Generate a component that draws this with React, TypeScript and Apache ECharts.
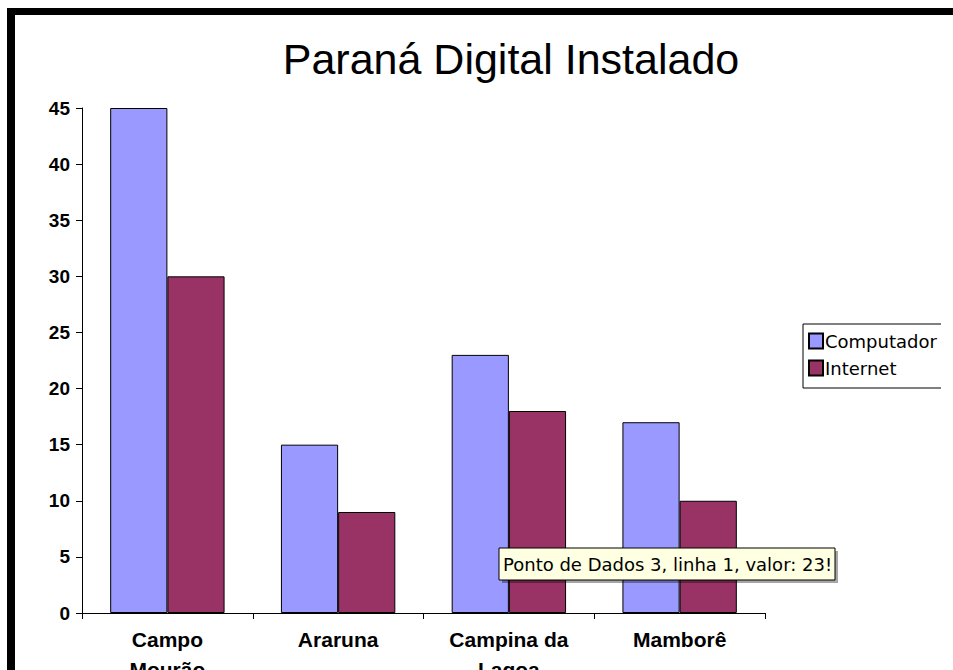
import React, { useEffect, useRef } from "react";
import * as echarts from "echarts";

const titleText = "Paraná Digital Instalado";
const categories = ["Campo\nMourão", "Araruna", "Campina da\nLagoa", "Mamborê"];
const seriesNames = ["Computador", "Internet"];
const computadorValues = [45, 15, 23, 17];
const internetValues = [30, 9, 18, 10];
const yTicks = { min: 0, max: 45, interval: 5 };
const tooltipText = "Ponto de Dados 3, linha 1, valor: 23!";

export default function App() {
  const ref = useRef<HTMLDivElement>(null);
  useEffect(() => {
    if (!ref.current) return;
    const chart = echarts.init(ref.current, null, { renderer: "svg" });
    const axisFont = "Liberation Sans";
    chart.setOption({
      animation: false,
      backgroundColor: "#ffffff",
      title: {
        text: titleText,
        left: 506,
        top: 32,
        textAlign: "center",
        textStyle: {
          fontFamily: "Liberation Sans",
          fontWeight: "normal",
          fontSize: 43,
          color: "#000",
        },
      },
      legend: {
        orient: "vertical",
        left: 803,
        top: 324,
        icon: "rect",
        itemWidth: 14,
        itemHeight: 15,
        itemGap: 9,
        padding: [8, 20, 11, 5],
        borderColor: "#000",
        borderWidth: 1,
        textStyle: { fontFamily: "DejaVu Sans", fontSize: 18, color: "#000", padding: [0, 0, 0, -3] },
        data: seriesNames,
      },
      grid: {
        left: 82,
        right: 188,
        top: 108,
        bottom: 57,
        containLabel: false,
        outerBoundsMode: "none",
      },
      xAxis: {
        type: "category",
        data: categories,
        axisLine: { lineStyle: { color: "#000", width: 1 } },
        axisTick: { show: true, length: 6, lineStyle: { color: "#000" } },
        axisLabel: {
          interval: 0,
          margin: 11,
          fontFamily: axisFont,
          fontWeight: "bold",
          fontSize: 21,
          lineHeight: 30,
          color: "#000",
        },
      },
      yAxis: {
        type: "value",
        min: yTicks.min,
        max: yTicks.max,
        interval: yTicks.interval,
        splitLine: { show: false },
        axisLine: { show: true, lineStyle: { color: "#000", width: 1 } },
        axisTick: { show: true, length: 6, lineStyle: { color: "#000" } },
        axisLabel: {
          margin: 12,
          fontFamily: axisFont,
          fontWeight: "bold",
          fontSize: 19,
          color: "#000",
        },
      },
      series: [
        {
          name: seriesNames[0],
          type: "bar",
          data: computadorValues,
          barGap: "0%",
          barCategoryGap: "33%",
          itemStyle: { color: "#9999FF", borderColor: "#000", borderWidth: 1 },
        },
        {
          name: seriesNames[1],
          type: "bar",
          data: internetValues,
          barGap: "0%",
          barCategoryGap: "33%",
          itemStyle: { color: "#993366", borderColor: "#000", borderWidth: 1 },
        },
      ],
      graphic: [
        { type: "rect", z: 100, shape: { x: 941, y: 16, width: 12, height: 654 }, style: { fill: "#fff" } },
        { type: "rect", z: 101, shape: { x: 7, y: 8, width: 946, height: 7 }, style: { fill: "#000" } },
        { type: "rect", z: 101, shape: { x: 7, y: 8, width: 8, height: 662 }, style: { fill: "#000" } },
        { type: "rect", z: 102, shape: { x: 502, y: 551, width: 336, height: 32 }, style: { fill: "rgba(0,0,0,0.35)" } },
        { type: "rect", z: 103, shape: { x: 499, y: 548, width: 336, height: 32 }, style: { fill: "#FFFFE1", stroke: "#000", lineWidth: 1 } },
        {
          type: "text",
          z: 104,
          x: 503,
          y: 564,
          style: {
            text: tooltipText,
            fill: "#000",
            fontFamily: "DejaVu Sans",
            fontSize: 18,
            verticalAlign: "middle",
          },
        },
      ],
    });
    return () => chart.dispose();
  }, []);
  return (
    <div
      ref={ref}
      style={{ position: "absolute", left: 0, top: 0, width: 953, height: 670 }}
    />
  );
}
